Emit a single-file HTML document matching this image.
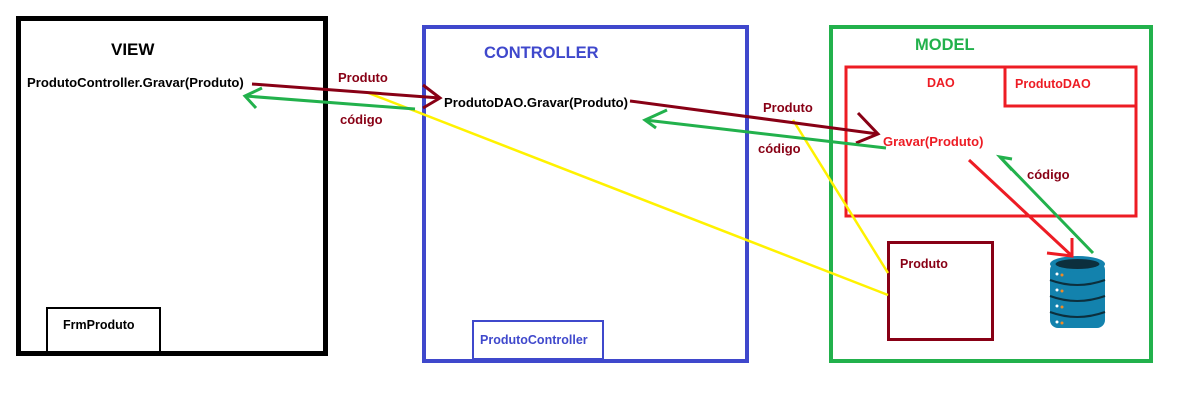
<!DOCTYPE html>
<html><head><meta charset="utf-8"><style>
html,body{margin:0;padding:0;background:#fff;}
svg{display:block;}
text{font-family:"Liberation Sans",sans-serif;font-weight:bold;}
</style></head><body>
<svg width="1184" height="408" viewBox="0 0 1184 408" xmlns="http://www.w3.org/2000/svg">
<rect width="1184" height="408" fill="#fff"/>
<!-- VIEW -->
<rect x="18.5" y="18.5" width="307" height="335" fill="none" stroke="#000" stroke-width="5"/>
<rect x="47" y="308" width="113" height="45" fill="none" stroke="#000" stroke-width="2"/>
<text x="111" y="55" font-size="17" fill="#000">VIEW</text>
<text x="27" y="87" font-size="13.1" fill="#000">ProdutoController.Gravar(Produto)</text>
<text x="63" y="329" font-size="12.5" fill="#000">FrmProduto</text>
<!-- CONTROLLER -->
<rect x="424" y="27" width="323" height="334" fill="none" stroke="#3f48cc" stroke-width="4"/>
<rect x="473" y="321" width="130" height="38" fill="none" stroke="#3f48cc" stroke-width="2"/>
<text x="484" y="58" font-size="16.5" fill="#3f48cc">CONTROLLER</text>
<text x="444" y="107" font-size="13.1" fill="#000">ProdutoDAO.Gravar(Produto)</text>
<text x="480" y="344" font-size="12.5" fill="#3f48cc">ProdutoController</text>
<!-- MODEL -->
<rect x="831" y="27" width="320" height="334" fill="none" stroke="#22b14c" stroke-width="4"/>
<text x="915" y="50" font-size="16.5" fill="#22b14c">MODEL</text>
<rect x="846" y="67" width="290" height="149" fill="none" stroke="#ed1c24" stroke-width="3"/>
<polyline points="1005,67 1005,106 1136,106" fill="none" stroke="#ed1c24" stroke-width="3"/>
<text x="927" y="87" font-size="12.5" fill="#ed1c24">DAO</text>
<text x="1015" y="88" font-size="12.5" fill="#ed1c24">ProdutoDAO</text>
<text x="883" y="146" font-size="13" fill="#ed1c24">Gravar(Produto)</text>
<rect x="888.5" y="242.5" width="104" height="97" fill="none" stroke="#880015" stroke-width="3"/>
<text x="900" y="268" font-size="12.5" fill="#880015">Produto</text>
<!-- DB -->
<g>
<rect x="1050" y="262" width="55" height="66" rx="8" fill="#1382ad"/>
<ellipse cx="1077.5" cy="264" rx="27.5" ry="8" fill="#1382ad"/>
<ellipse cx="1077.5" cy="264" rx="22" ry="5" fill="#0c2f3d"/>
<path d="M1050 280 Q1077 290 1105 280" stroke="#0c2f3d" stroke-width="2" fill="none"/>
<path d="M1050 296 Q1077 306 1105 296" stroke="#0c2f3d" stroke-width="2" fill="none"/>
<path d="M1050 312 Q1077 322 1105 312" stroke="#0c2f3d" stroke-width="2" fill="none"/>
<circle cx="1057" cy="274" r="1.5" fill="#fff"/><circle cx="1062" cy="275" r="1.5" fill="#f08a24"/>
<circle cx="1057" cy="290" r="1.5" fill="#fff"/><circle cx="1062" cy="291" r="1.5" fill="#f08a24"/>
<circle cx="1057" cy="306" r="1.5" fill="#fff"/><circle cx="1062" cy="307" r="1.5" fill="#f08a24"/>
<circle cx="1057" cy="322" r="1.5" fill="#fff"/><circle cx="1062" cy="323" r="1.5" fill="#f08a24"/>
</g>
<!-- labels -->
<text x="338" y="82" font-size="13" fill="#880015">Produto</text>
<text x="340" y="124" font-size="13" fill="#880015">código</text>
<text x="763" y="112" font-size="13" fill="#880015">Produto</text>
<text x="758" y="153" font-size="13" fill="#880015">código</text>
<text x="1027" y="179" font-size="13" fill="#880015">código</text>
<!-- yellow -->
<line x1="366" y1="92" x2="888" y2="295" stroke="#fff200" stroke-width="2.5"/>
<line x1="793" y1="120" x2="888" y2="273" stroke="#fff200" stroke-width="2.5"/>
<!-- dark red arrows -->
<g stroke="#880015" stroke-width="3" fill="none">
<line x1="252" y1="84" x2="440" y2="98"/>
<polyline points="423,85 440,98 423,108"/>
<line x1="630" y1="101" x2="878" y2="134"/>
<polyline points="858,113 878,134 856,143"/>
</g>
<!-- green arrows -->
<g stroke="#22b14c" stroke-width="3" fill="none">
<line x1="415" y1="109" x2="245" y2="96"/>
<polyline points="262,88 245,96 256,108"/>
<line x1="886" y1="148" x2="645" y2="120"/>
<polyline points="667,110 645,120 656,128"/>
<line x1="1093" y1="253" x2="1000" y2="157"/>
<polyline points="1012,170 1000,157 1012,159"/>
</g>
<!-- red arrow -->
<g stroke="#ed1c24" stroke-width="3" fill="none">
<line x1="969" y1="160" x2="1072" y2="256"/>
<polyline points="1072,238 1072,256 1047,253"/>
</g>
</svg>
</body></html>
